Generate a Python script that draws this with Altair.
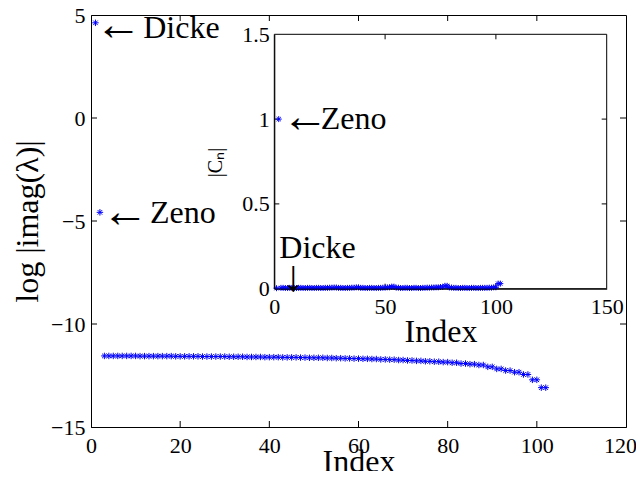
import altair as alt
import pandas as pd

# ---------------- data ----------------
# main panel: log|imag(lambda)| against eigenvalue index
main_index = list(range(1, 103))
main_values = [
    4.62, -4.58,
    -11.55, -11.55, -11.55, -11.55, -11.55, -11.55, -11.55, -11.55, -11.56, -11.56,
    -11.56, -11.56, -11.56, -11.56, -11.56, -11.56, -11.57, -11.57, -11.57, -11.57,
    -11.57, -11.57, -11.58, -11.58, -11.58, -11.58, -11.58, -11.58, -11.59, -11.59,
    -11.59, -11.59, -11.60, -11.60, -11.60, -11.60, -11.61, -11.61, -11.61, -11.61,
    -11.62, -11.62, -11.62, -11.62, -11.63, -11.63, -11.64, -11.64, -11.64, -11.64,
    -11.65, -11.65, -11.66, -11.66, -11.67, -11.67, -11.68, -11.68, -11.69, -11.69,
    -11.70, -11.70, -11.72, -11.72, -11.73, -11.73, -11.75, -11.75, -11.77, -11.77,
    -11.79, -11.79, -11.81, -11.81, -11.83, -11.83, -11.85, -11.85, -11.88, -11.88,
    -11.92, -11.92, -11.95, -11.95, -11.99, -11.99, -12.08, -12.08, -12.18, -12.18,
    -12.26, -12.26, -12.34, -12.34, -12.45, -12.45, -12.71, -12.71, -13.09, -13.09,
]

# inset: |C_n| against index
inset_index = list(range(1, 103))
inset_values = [
    0.003, 1.0,
    0.005, 0.005, 0.004, 0.004, 0.005, 0.005, 0.004, 0.004, 0.005, 0.005,
    0.004, 0.004, 0.005, 0.005, 0.004, 0.004, 0.005, 0.005, 0.004, 0.004,
    0.005, 0.005, 0.006, 0.006, 0.007, 0.007, 0.005, 0.005, 0.004, 0.004,
    0.005, 0.005, 0.006, 0.006, 0.008, 0.008, 0.005, 0.005, 0.004, 0.004,
    0.005, 0.005, 0.004, 0.004, 0.005, 0.005, 0.006, 0.006, 0.008, 0.008,
    0.012, 0.012, 0.006, 0.006, 0.004, 0.004, 0.005, 0.005, 0.004, 0.004,
    0.005, 0.005, 0.004, 0.004, 0.005, 0.005, 0.006, 0.006, 0.007, 0.007,
    0.008, 0.008, 0.010, 0.010, 0.017, 0.017, 0.007, 0.007, 0.005, 0.005,
    0.004, 0.004, 0.005, 0.005, 0.004, 0.004, 0.005, 0.005, 0.004, 0.004,
    0.005, 0.005, 0.005, 0.005, 0.006, 0.006, 0.008, 0.008, 0.030, 0.030,
]

main_x_ticks = [0, 20, 40, 60, 80, 100, 120]
main_y_ticks = [-15, -10, -5, 0, 5]
inset_x_ticks = [0, 50, 100, 150]
inset_y_ticks = [0, 0.5, 1, 1.5]
main_x_inner = [20, 40, 60, 80, 100]
main_y_inner = [-10, -5, 0]
inset_x_inner = [50, 100]
inset_y_inner = [0.5, 1]

# ---------------- layout ----------------
W, H = 535, 412
IL, IR, IT, IB = 183.3, 515.7, 19.3, 273.7
FONT = "Liberation Serif"
BLUE = "#0000ff"
STAR = "M0,-1L0,1M-1,0L1,0M-0.7,-0.7L0.7,0.7M-0.7,0.7L0.7,-0.7"
FMT = ".4~r"

xs_main = alt.Scale(domain=[0, 120], nice=False, zero=False)
ys_main = alt.Scale(domain=[-15, 5], nice=False, zero=False)
xs_in = alt.Scale(domain=[0, 150], range=[IL, IR], nice=False, zero=False)
ys_in = alt.Scale(domain=[0, 1.5], range=[IB, IT], nice=False, zero=False)

df_main = pd.DataFrame({"idx": main_index, "val": main_values})
df_in = pd.DataFrame({"idx": inset_index, "val": inset_values})

AX = dict(labelFont=FONT, titleFont=FONT, labelFontSize=22, titleFontSize=32,
          titleFontWeight="normal", labelColor="black", titleColor="black",
          format=FMT, ticks=False, tickSize=0, grid=False, labelFlush=False,
          labelOverlap=False, domainColor="black", zindex=1)

# ---------------- main panel ----------------
main_pts = alt.Chart(df_main).mark_point(
    shape=STAR, filled=False, color=BLUE, size=42, strokeWidth=1, opacity=1
).encode(
    x=alt.X("idx:Q", scale=xs_main, axis=alt.Axis(
        orient="bottom", values=main_x_ticks, title="Index",
        labelPadding=8, titleX=W / 2, titleY=44, titleBaseline="alphabetic",
        titleAlign="center",
        labelOffset={"condition": {"test": "datum.value == 120", "value": -6}, "value": 0},
        **AX)),
    y=alt.Y("val:Q", scale=ys_main, axis=alt.Axis(
        orient="left", values=main_y_ticks, title="log |imag(λ)|",
        labelPadding=6, titleX=-54, titleY=H / 2, titleAngle=270,
        titleBaseline="alphabetic", titleAlign="center", **AX)),
)

def xtick_rules(vals, scale, y0, y1):
    return alt.Chart(pd.DataFrame({"v": vals})).mark_rule(color="black", strokeWidth=1).encode(
        x=alt.X("v:Q", scale=scale, axis=None), y=alt.value(y0), y2=alt.value(y1))

def ytick_rules(vals, scale, x0, x1):
    return alt.Chart(pd.DataFrame({"v": vals})).mark_rule(color="black", strokeWidth=1).encode(
        y=alt.Y("v:Q", scale=scale, axis=None), x=alt.value(x0), x2=alt.value(x1))

main_ticks = [
    xtick_rules(main_x_inner, xs_main, H, H - 6),
    xtick_rules(main_x_inner, xs_main, 0, 6),
    ytick_rules(main_y_inner, ys_main, 0, 6),
    ytick_rules(main_y_inner, ys_main, W, W - 6),
]

def note(anchor, xscale, yscale, text, dx, dy, size=32, align="left"):
    d = pd.DataFrame({"idx": [anchor[0]], "val": [anchor[1]], "t": [text]})
    return alt.Chart(d).mark_text(
        font=FONT, fontSize=size, color="black", align=align, baseline="alphabetic",
        dx=dx, dy=dy).encode(
        x=alt.X("idx:Q", scale=xscale, axis=None),
        y=alt.Y("val:Q", scale=yscale, axis=None),
        text="t:N")

ARW = 47
dicke_main = (main_index[0], main_values[0])
zeno_main = (main_index[1], main_values[1])
main_notes = [
    note(dicke_main, xs_main, ys_main, "←", 22.7, 17, size=ARW, align="center"),
    note(dicke_main, xs_main, ys_main, "Dicke", 47.8, 15.5),
    note(zeno_main, xs_main, ys_main, "←", 25.1, 14.4, size=ARW, align="center"),
    note(zeno_main, xs_main, ys_main, "Zeno", 50.1, 10.4),
]

# ---------------- inset ----------------
frame = alt.Chart(pd.DataFrame({"x0": [0], "x1": [150], "y0": [0], "y1": [1.5]})).mark_rect(
    fill="white", stroke="black", strokeWidth=1).encode(
    x=alt.X("x0:Q", scale=xs_in, axis=None), x2="x1:Q",
    y=alt.Y("y0:Q", scale=ys_in, axis=None), y2="y1:Q")

inset_ticks = [
    xtick_rules(inset_x_inner, xs_in, IB, IB - 5),
    xtick_rules(inset_x_inner, xs_in, IT, IT + 5),
    ytick_rules(inset_y_inner, ys_in, IL, IL + 5),
    ytick_rules(inset_y_inner, ys_in, IR, IR - 5),
]

inset_pts = alt.Chart(df_in).mark_point(
    shape=STAR, filled=False, color=BLUE, size=36, strokeWidth=1, opacity=1
).encode(
    x=alt.X("idx:Q", scale=xs_in, axis=alt.Axis(
        orient="bottom", offset=-(H - IB), values=inset_x_ticks,
        title="Index", labelPadding=8, titleX=(IL + IR) / 2, titleY=53,
        titleBaseline="alphabetic", titleAlign="center", **AX)),
    y=alt.Y("val:Q", scale=ys_in, axis=alt.Axis(
        orient="left", offset=-IL, values=inset_y_ticks,
        title="|Cₙ|", labelPadding=5, titleX=-52.3, titleY=147,
        titleAngle=270, titleBaseline="alphabetic", titleAlign="center",
        **{**AX, "titleFontSize": 20})),
)

dicke_in = (inset_index[0], inset_values[0])
zeno_in = (inset_index[1], inset_values[1])
inset_notes = [
    note(zeno_in, xs_in, ys_in, "←", 26.3, 13.3, size=ARW, align="center"),
    note(zeno_in, xs_in, ys_in, "Zeno", 42, 10.2),
    note(dicke_in, xs_in, ys_in, "Dicke", 2.8, -29.9),
    note(dicke_in, xs_in, ys_in, "↓", 16.8, 2.7, size=44, align="center"),
]

chart = alt.layer(
    *main_ticks, main_pts, *main_notes, frame, *inset_ticks, inset_pts, *inset_notes
).resolve_scale(x="independent", y="independent").resolve_axis(
    x="independent", y="independent"
).properties(
    width=W, height=H,
    autosize=alt.AutoSizeParams(type="none"),
    padding={"left": 83, "top": 7, "right": 10, "bottom": 44},
).configure_view(stroke="black", strokeWidth=1)

chart.save("out.html", embed_options={"renderer": "svg", "actions": False})
